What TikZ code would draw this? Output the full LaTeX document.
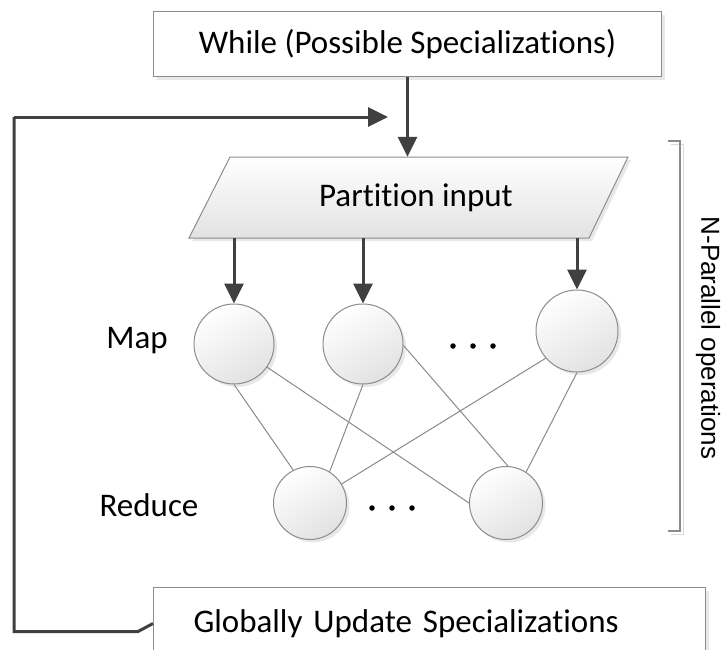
\documentclass[tikz,border=0pt]{standalone}
\usepackage{fontspec}
\setmainfont{Carlito}[RawFeature={-liga;-clig;-dlig}]
\newfontfamily\arialfont{Liberation Sans}
\usetikzlibrary{arrows.meta,shadows,calc}
\definecolor{arrowgray}{HTML}{404040}
\definecolor{edgegray}{HTML}{8C8C8C}
\definecolor{linkgray}{HTML}{8A8A8A}
\definecolor{fillgray}{HTML}{E2E2E2}
\begin{document}
\begin{tikzpicture}[x=1pt,y=-1pt,
  every node/.style={font=\fontsize{33}{38}\selectfont},
  softshadow/.style={drop shadow={opacity=0.18,shadow xshift=3pt,shadow yshift=-3pt}},
  boxstyle/.style={draw=edgegray,line width=1pt,fill=white,softshadow,inner sep=0pt},
  mapnode/.style={circle,draw=edgegray,line width=1pt,top color=white,bottom color=fillgray,
    shading angle=30,softshadow,minimum size=80pt,inner sep=0pt},
  rednode/.style={mapnode,minimum size=73pt},
  flowarrow/.style={draw=arrowgray,line width=3pt,-{Triangle[length=20pt,width=19pt]}},
  flowline/.style={draw=arrowgray,line width=3pt},
  linkline/.style={draw=linkgray,line width=1pt},
  dotstyle/.style={circle,fill=black,inner sep=0pt,minimum size=5.5pt}
]
\useasboundingbox (0,0) rectangle (726,649);

% top box
\node[boxstyle,anchor=north west,minimum width=508pt,minimum height=65pt] (whilebox) at (153,11)
  {While (Possible Specializations)};

% bottom box
\node[boxstyle,anchor=north west,minimum height=72pt,text width=472pt,align=left,inner xsep=40pt] (gbox) at (153,587)
  {Globally Update Specializations};

% partition parallelogram
\path[draw=edgegray,line width=1pt,top color=white,bottom color=fillgray,softshadow]
  (230,157) -- (628,157) -- (589,238) -- (189,238) -- cycle;
\node[minimum width=380pt,minimum height=81pt,inner sep=0pt] (part) at (416,197.5) {Partition input};

% map circles
\node[mapnode] (m1) at (234,344) {};
\node[mapnode] (m2) at (363,344) {};
\node[mapnode,minimum size=82pt] (m3) at (577,331) {};

% reduce circles
\node[rednode] (ra) at (310,503) {};
\node[rednode] (rb) at (506,503) {};

% labels
\node (maplabel) at (137,341) {Map};
\node (redlabel) at (149,505) {Reduce};

% dots
\node[dotstyle] (md1) at (453,346) {};
\node[dotstyle] (md2) at (473,346) {};
\node[dotstyle] (md3) at (493,346) {};
\node[dotstyle] (rd1) at (372,508) {};
\node[dotstyle] (rd2) at (392,508) {};
\node[dotstyle] (rd3) at (412,508) {};

% links
\draw[linkline] (m1.270) -- (ra.117);
\draw[linkline] (m1.-35) -- (rb.180);
\draw[linkline] (m2.270) -- (ra.58);
\draw[linkline] (m2.-2) -- (rb.87);
\draw[linkline] (m3.221) -- (ra.31);
\draw[linkline] (m3.270) -- (rb.57);

% arrows
\draw[flowarrow] (whilebox.south) -- (whilebox.south |- part.north);
\draw[flowarrow] (part.south -| m1.north) -- (m1.north);
\draw[flowarrow] (part.south -| m2.north) -- (m2.north);
\draw[flowarrow] (part.south -| m3.north) -- (m3.north);

% feedback
\coordinate (fbtop) at (14,117);
\coordinate (fbend) at (388,117);
\draw[flowline,line join=miter] (gbox.west) -- ++(-15,8) -| (fbtop);
\draw[flowarrow] (fbtop) -- (fbend);

% bracket
\coordinate (bt) at (668,141);
\coordinate (bb) at (668,531);
\draw[draw=white!85!black,line width=1pt] ($(bt)+(3,3)$) -- ++(12,0) -- ($(bb)+(15,3)$) -- ++(-12,0);
\draw[draw=edgegray,line width=1.2pt] (bt) -- ++(12,0) -- ($(bb)+(12,0)$) -- (bb);
\node[font=\arialfont\fontsize{26}{30}\selectfont,rotate=-90] (npar) at (708,338) {N-Parallel operations};
\end{tikzpicture}
\end{document}
